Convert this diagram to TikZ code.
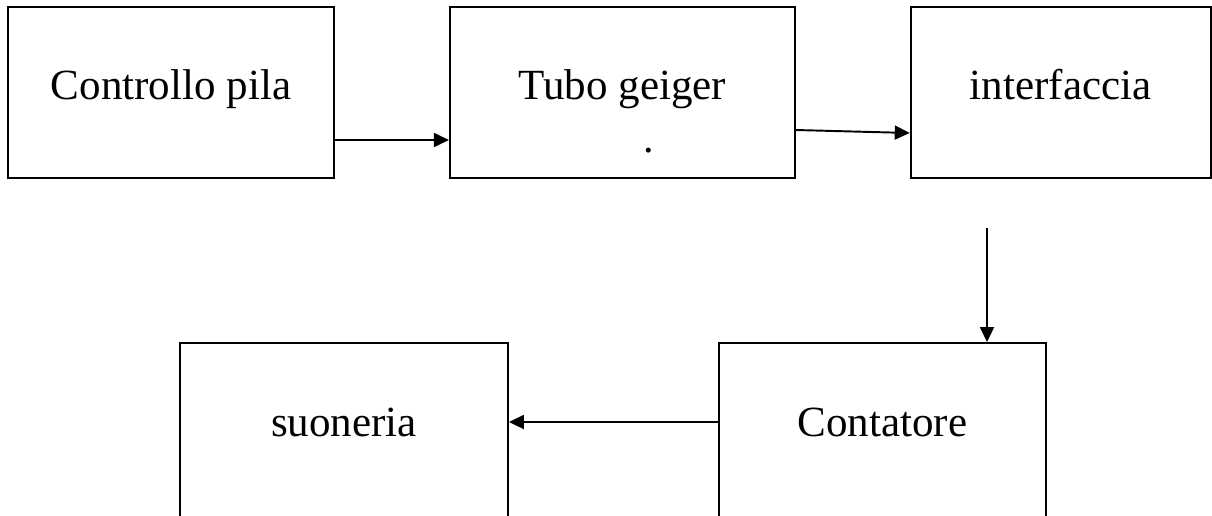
\documentclass[tikz,border=0pt]{standalone}
\usepackage{fontspec}
\setmainfont{Liberation Serif}
\usetikzlibrary{arrows.meta,positioning}

\begin{document}
\begin{tikzpicture}[x=0.02cm,y=-0.02cm]
          \tikzstyle{block}=[rectangle,draw=black,line width=1.1pt,minimum height=3.42cm,inner sep=0pt,text height=0.5cm,text depth=0.24cm,font=\fontsize{24.5}{28}\selectfont]
          \tikzstyle{conn}=[line width=1.1pt,-{Triangle[length=0.3cm,width=0.28cm]}]
          \tikzstyle{onedge}=[minimum height=3.48cm]

          \clip (0,0) rectangle (1212,515);

          % top row
          \node[block,minimum width=6.52cm](pila) at (171,92.5){Controllo pila};
          \node[block,minimum width=6.9cm,right=2.28cm of pila](tubo){Tubo geiger};
          \node[block,minimum width=6.0cm,right=2.28cm of tubo](interf){interfaccia};
          \node(dot) at (649,151){\fontsize{24}{28}\selectfont .};

          % bottom row
          \node[block,onedge,minimum width=6.56cm](suon) at (344,430){suoneria};
          \node[block,onedge,minimum width=6.54cm](cont) at (882.5,430){Contatore};
          \coordinate(drop) at (987,228);

          \draw[conn] ([yshift=-0.95cm]pila.east) -- ([yshift=-0.95cm]tubo.west);
          \draw[conn] ([yshift=-0.75cm]tubo.east) -- ([yshift=-0.81cm]interf.west);
          \draw[conn] (drop) -- (drop |- cont.north);
          \draw[conn] ([yshift=0.16cm]cont.west) -- ([yshift=0.16cm]suon.east);
\end{tikzpicture}
\end{document}
